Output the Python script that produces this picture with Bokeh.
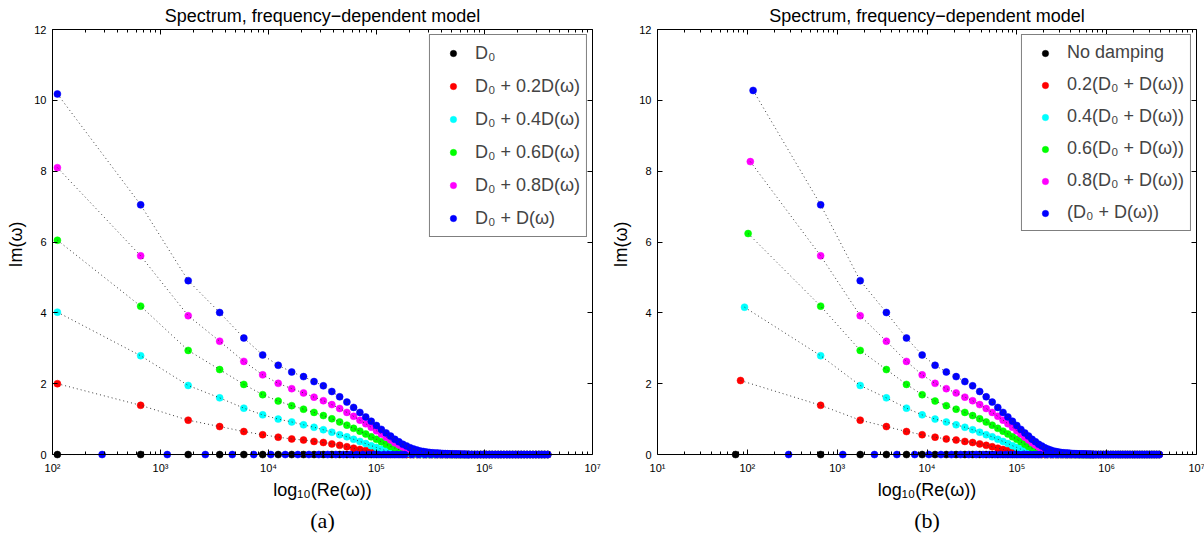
from bokeh.plotting import figure
from bokeh.models import (Range1d, LogAxis, LinearAxis, FixedTicker, Legend, Title,
                          LegendItem, BoxAnnotation, CustomJSTickFormatter)
from bokeh.layouts import row
from bokeh.embed import file_html
from bokeh.resources import INLINE

# ---------------- data ----------------
# Re(omega) of the complex modes (panel a; panel b uses the same from mode 2 on)
re_modes = [111, 655, 1805, 3530, 5910, 8830, 12300, 16400, 21100, 26400,
            32200, 38600, 45600, 53200, 61400, 70200, 79500, 89400, 99900, 111000,
            122700, 135000, 147800, 161300, 175300, 189900, 205100, 220800, 237200, 254100,
            271600, 289700, 308400, 327700, 347600, 368000, 389000, 410600, 432800, 455600,
            479000, 502900, 527400, 552500, 578200, 604500, 631400, 658800, 686900, 715500]
# high modes lying on the real axis (Im = 0)
re_tail = [760000, 810000, 860000, 920000, 980000, 1040000, 1110000, 1180000, 1260000,
           1340000, 1420000, 1510000, 1610000, 1710000, 1820000, 1940000, 2060000, 2190000,
           2330000, 2480000, 2640000, 2810000, 2990000, 3180000, 3380000, 3600000, 3850000]
# extra purely real eigenvalues of the damped model
re_real = [288, 1155, 2600, 4620, 7300, 10500, 14300, 18700, 23650, 29200, 35330, 42050,
           49350, 57230, 65700, 74750, 84400, 94600, 105400, 116800, 128800, 141300, 154500,
           168200, 182500, 212900, 245600, 280700, 318400, 358700, 401500, 446800, 494600,
           545000, 597900, 653300, 711200]

im_black = [0.0] * 50
im_red = [2.00, 1.39, 0.97, 0.79, 0.65, 0.56, 0.49, 0.44, 0.41, 0.37,
          0.34, 0.30, 0.26, 0.22, 0.18, 0.145, 0.115, 0.085, 0.06, 0.045,
          0.032, 0.023, 0.017, 0.012, 0.009, 0.007, 0.005, 0.004, 0.003, 0.002,
          0.002, 0.001, 0.001, 0.001, 0.001, 0.001, 0, 0, 0, 0,
          0, 0, 0, 0, 0, 0, 0, 0, 0, 0]
im_cyan = [4.02, 2.79, 1.95, 1.60, 1.31, 1.12, 1.00, 0.92, 0.84, 0.77,
           0.70, 0.63, 0.56, 0.50, 0.43, 0.37, 0.31, 0.25, 0.20, 0.15,
           0.11, 0.08, 0.06, 0.045, 0.035, 0.027, 0.021, 0.016, 0.012, 0.01,
           0.008, 0.007, 0.006, 0.005, 0.004, 0.004, 0.003, 0.003, 0.002, 0.002,
           0.002, 0.001, 0.001, 0.001, 0.001, 0, 0, 0, 0, 0]
im_green = [6.05, 4.19, 2.94, 2.40, 1.98, 1.69, 1.51, 1.38, 1.28, 1.19,
            1.10, 1.01, 0.92, 0.83, 0.74, 0.66, 0.58, 0.50, 0.43, 0.36,
            0.29, 0.23, 0.18, 0.14, 0.11, 0.085, 0.065, 0.05, 0.04, 0.033,
            0.027, 0.022, 0.018, 0.015, 0.012, 0.01, 0.009, 0.008, 0.007, 0.006,
            0.005, 0.004, 0.004, 0.003, 0.003, 0.002, 0.002, 0.001, 0.001, 0.0]
im_magenta = [8.10, 5.61, 3.92, 3.20, 2.63, 2.25, 2.01, 1.86, 1.74, 1.62,
              1.52, 1.41, 1.30, 1.19, 1.08, 0.97, 0.87, 0.77, 0.67, 0.58,
              0.49, 0.41, 0.33, 0.27, 0.21, 0.165, 0.13, 0.10, 0.08, 0.065,
              0.055, 0.045, 0.038, 0.032, 0.027, 0.023, 0.02, 0.017, 0.015, 0.013,
              0.011, 0.009, 0.008, 0.007, 0.006, 0.005, 0.004, 0.003, 0.002, 0.001]
im_blue = [10.18, 7.05, 4.91, 4.01, 3.29, 2.81, 2.52, 2.33, 2.20, 2.06,
           1.94, 1.78, 1.63, 1.48, 1.33, 1.19, 1.06, 0.94, 0.82, 0.71,
           0.61, 0.52, 0.43, 0.36, 0.29, 0.24, 0.19, 0.155, 0.125, 0.10,
           0.085, 0.07, 0.06, 0.05, 0.045, 0.04, 0.035, 0.03, 0.027, 0.024,
           0.021, 0.018, 0.016, 0.014, 0.012, 0.01, 0.008, 0.006, 0.004, 0.002]

# panel (b): first mode differs per series
re_first_b = [74, 84, 93, 102, 108, 116]
im_first_b = [0.0, 2.09, 4.16, 6.24, 8.27, 10.28]

colors = ["#000000", "#FF0000", "#00FFFF", "#00FF00", "#FF00FF", "#0000FF"]
labels_a = ["D₀", "D₀ + 0.2D(ω)", "D₀ + 0.4D(ω)", "D₀ + 0.6D(ω)", "D₀ + 0.8D(ω)", "D₀ + D(ω)"]
labels_b = ["No damping", "0.2(D₀ + D(ω))", "0.4(D₀ + D(ω))", "0.6(D₀ + D(ω))",
            "0.8(D₀ + D(ω))", "(D₀ + D(ω))"]
title_text = "Spectrum, frequency\u2212dependent model"
x_label = "log₁₀(Re(ω))"
y_label = "Im(ω)"
y_ticks = [0, 2, 4, 6, 8, 10, 12]

SANS = "Liberation Sans"
FRAME_H = 430
Y_LO, Y_HI = -0.14, 12

fmt_code = """
const sup = {0:'\\u2070',1:'\\u00b9',2:'\\u00b2',3:'\\u00b3',4:'\\u2074',5:'\\u2075',6:'\\u2076',7:'\\u2077'};
const e = Math.round(Math.log10(tick));
return '10' + sup[e];
"""
blank_code = "return '';"


def build(series_x, series_y, x_lo_exp, x_hi_exp, frame_w, b_left, b_right, labels,
          caption, legend_label_h):
    x_lo, x_hi = 10.0 ** x_lo_exp, 10.0 ** x_hi_exp
    p = figure(x_axis_type="log", x_range=Range1d(x_lo, x_hi), y_range=Range1d(Y_LO, Y_HI),
               frame_width=frame_w, frame_height=FRAME_H,
               min_border_left=b_left, min_border_right=b_right,
               min_border_top=28, min_border_bottom=78,
               output_backend="svg", toolbar_location=None,
               outline_line_color=None, background_fill_color="white",
               border_fill_color="white")
    p.grid.visible = False

    majors = [10.0 ** k for k in range(x_lo_exp, x_hi_exp + 1)]
    minors = [m * 10.0 ** k for k in range(x_lo_exp, x_hi_exp) for m in range(2, 10)]

    def hide_labels(ax):
        ax.formatter = CustomJSTickFormatter(code=blank_code)
        ax.major_label_text_font_size = "0px"
        ax.major_label_standoff = 0

    def ticks_x(ax):
        ax.ticker = FixedTicker(ticks=majors, minor_ticks=minors)
        ax.major_tick_in = 5
        ax.major_tick_out = 0
        ax.minor_tick_in = 3
        ax.minor_tick_out = 0
        ax.axis_line_color = "black"
        ax.major_tick_line_color = "black"
        ax.minor_tick_line_color = "black"

    def ticks_y(ax):
        ax.ticker = FixedTicker(ticks=y_ticks)
        ax.bounds = (0, 12)
        ax.major_tick_in = 5
        ax.major_tick_out = 0
        ax.minor_tick_line_color = None
        ax.axis_line_color = "black"

    # bottom: tick marks drawn on the zero line
    xb = p.xaxis[0]
    ticks_x(xb)
    hide_labels(xb)
    xb.fixed_location = 0
    # bottom: labels only
    xl = LogAxis(ticker=FixedTicker(ticks=majors, minor_ticks=[]),
                 formatter=CustomJSTickFormatter(code=fmt_code))
    xl.axis_line_color = None
    xl.major_tick_line_color = None
    xl.minor_tick_line_color = None
    xl.major_tick_in = 0
    xl.major_tick_out = 0
    xl.major_label_standoff = 2
    xl.major_label_text_font = SANS
    xl.major_label_text_font_size = "11px"
    xl.major_label_text_color = "black"
    xl.axis_label = x_label
    xl.axis_label_text_font = SANS
    xl.axis_label_text_font_size = "18px"
    xl.axis_label_text_font_style = "normal"
    xl.axis_label_text_color = "black"
    xl.axis_label_standoff = 3
    p.add_layout(xl, "below")

    yl = p.yaxis[0]
    ticks_y(yl)
    yl.major_label_text_font = SANS
    yl.major_label_text_font_size = "11px"
    yl.major_label_text_color = "black"
    yl.major_label_standoff = 6
    yl.axis_label = y_label
    yl.axis_label_text_font = SANS
    yl.axis_label_text_font_size = "18px"
    yl.axis_label_text_font_style = "normal"
    yl.axis_label_text_color = "black"
    yl.axis_label_standoff = 5

    top = LogAxis()
    ticks_x(top)
    hide_labels(top)
    p.add_layout(top, "above")
    right = LinearAxis()
    ticks_y(right)
    hide_labels(right)
    p.add_layout(right, "right")

    p.add_layout(BoxAnnotation(left=x_lo, right=x_hi, bottom=0, top=12, fill_alpha=0,
                               line_color="black", line_width=1))

    renderers = []
    for k in range(6):
        r = p.scatter(series_x[k], series_y[k], size=7, marker="circle",
                      fill_color=colors[k], line_color=colors[k], line_width=0.5)
        if k == 5:
            p.scatter(re_real, [0.0] * len(re_real), size=7, marker="circle",
                      fill_color=colors[k], line_color=colors[k], line_width=0.5)
        p.line(series_x[k], series_y[k], line_color="#3a3a3a", line_width=1, line_dash="1 3")
        renderers.append(r)

    legend = Legend(items=[LegendItem(label=labels[k], renderers=[renderers[k]]) for k in range(6)],
                    location="top_right", margin=5, padding=6, spacing=9,
                    glyph_width=34, glyph_height=16, label_height=legend_label_h,
                    label_standoff=5, label_text_font=SANS, label_text_font_size="18px",
                    border_line_color="black", border_line_width=1,
                    background_fill_color="white", background_fill_alpha=1.0)
    p.add_layout(legend)

    p.title.text = title_text
    p.title.align = "center"
    p.title.text_font = SANS
    p.title.text_font_size = "18px"
    p.title.text_font_style = "normal"
    p.title.text_color = "black"
    p.title.standoff = 7

    p.add_layout(Title(text=caption, align="center", text_font="Liberation Serif",
                       text_font_size="22px", text_font_style="normal",
                       text_color="black", standoff=6), "below")
    return p


ims = [im_black, im_red, im_cyan, im_green, im_magenta, im_blue]
tail_zero = [0.0] * len(re_tail)

xs_a = [re_modes + re_tail for k in range(6)]
ys_a = [ims[k] + tail_zero for k in range(6)]
xs_b = [[re_first_b[k]] + re_modes[1:] + re_tail for k in range(6)]
ys_b = [[im_first_b[k]] + ims[k][1:] + tail_zero for k in range(6)]

p1 = build(xs_a, ys_a, 2, 7, 540, 52, 16, labels_a, "(a)", 24)
p2 = build(xs_b, ys_b, 1, 7, 539, 45, 12, labels_b, "(b)", 23)

layout = row(p1, p2)
open("out.html", "w").write(file_html(layout, INLINE))
